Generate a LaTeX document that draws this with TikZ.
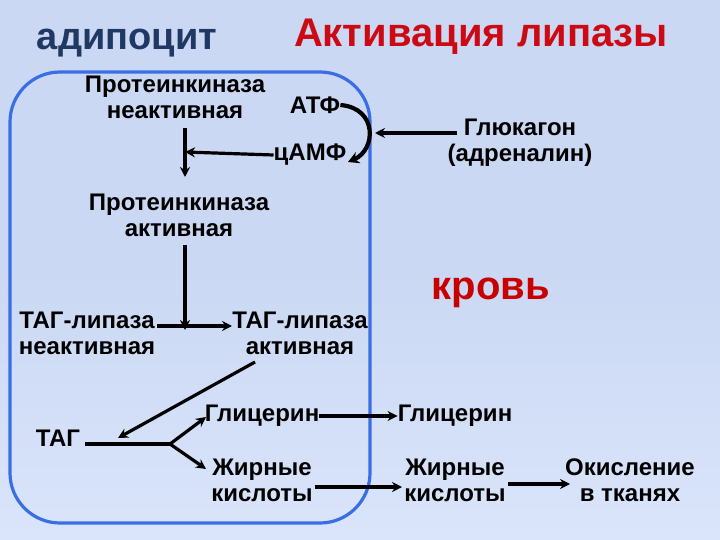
\documentclass[tikz,border=0pt]{standalone}
\usepackage{fontspec}
\setmainfont{Liberation Sans}
\usetikzlibrary{arrows.meta}
\definecolor{bgc}{RGB}{203,216,243}
\definecolor{bgl}{RGB}{218,229,251}
\definecolor{boxc}{RGB}{58,110,228}
\definecolor{navy}{RGB}{31,56,100}
\definecolor{redc}{RGB}{200,0,0}
\definecolor{titc}{RGB}{205,10,20}
\tikzset{
  txt/.style={font=\bfseries\fontsize{24}{26}\selectfont, align=center, inner sep=0pt, text=black},
  arr/.style={line width=3.2pt, -{Stealth[length=10pt,width=10pt]}},
  ln/.style={line width=3.2pt},
}
\begin{document}
\begin{tikzpicture}[x=1pt,y=-1pt]
\useasboundingbox (0,0) rectangle (720,540);
\shade[shading angle=135, top color=bgc, bottom color=bgl, middle color=bgc] (0,0) rectangle (720,540);
% cell
\draw[boxc, line width=3.2pt, rounded corners=50pt] (10,72) rectangle (370,523);
% titles
\node[font=\bfseries\fontsize{38}{40}\selectfont, text=navy, inner sep=0pt] (adip) at (127,43) {адипоцит};
\node[font=\bfseries\fontsize{40}{42}\selectfont, text=titc, inner sep=0pt, draw=none] (tit) at (481,37) {Активация липазы};
\node[font=\bfseries\fontsize{40}{42}\selectfont, text=redc, inner sep=0pt] (krov) at (491,293) {кровь};
% nodes
\node[txt] (pkn) at (175,97) {Протеинкиназа\\неактивная};
\node[txt] (atf) at (315,105) {АТФ};
\node[txt] (camp) at (310,155) {цАМФ};
\node[txt] (gluc) at (520,143) {Глюкагон\\(адреналин)};
\node[txt] (pka) at (179,215) {Протеинкиназа\\активная};
\node[txt] (tln) at (87,333) {ТАГ-липаза\\неактивная};
\node[txt] (tla) at (300,333) {ТАГ-липаза\\активная};
\node[txt] (tag) at (58,438) {ТАГ};
\node[txt] (gl1) at (262,416) {Глицерин};
\node[txt] (gl2) at (455,416) {Глицерин};
\node[txt] (fa1) at (262,480) {Жирные\\кислоты};
\node[txt] (fa2) at (455,480) {Жирные\\кислоты};
\node[txt] (ox) at (630,480) {Окисление\\в тканях};
% coordinates
\coordinate (v1t) at (185,128);
\coordinate (v1b) at (185,177);
\coordinate (v1m) at (185,152);
\coordinate (v2t) at (185,245);
\coordinate (v2b) at (185,330);
\coordinate (hl) at (157,326);
\coordinate (hr) at (232,326);
\coordinate (dg) at (255,362);
\coordinate (dgt) at (118,438);
\coordinate (br) at (170,444);
\coordinate (tagr) at (85,444);
\coordinate (glin) at (206,417);
\coordinate (fain) at (206,469);
\coordinate (gs) at (457,133);
\coordinate (ge) at (375,133);
% connectors
\draw[arr] (v1t) -- (v1b);
\draw[arr] (camp.west) -- (v1m);
\draw[line width=4.2pt, -{Stealth[length=11pt,width=12pt]}] (atf.east) .. controls (378,108) and (376,150) .. (348,162);
\draw[arr] (gs) -- (ge);
\draw[arr] (v2t) -- (v2b);
\draw[arr] (hl) -- (hr);
\draw[arr] (dg) -- (dgt);
\draw[ln] (tagr) -- (br);
\draw[arr] (br) -- (glin);
\draw[arr] (br) -- (fain);
\draw[arr] (gl1.east) -- (gl2.west);
\draw[arr] (fa1.east) ++(2,7) -- (402,487);
\draw[arr] (fa2.east) ++(2,4) -- (570,484);
\end{tikzpicture}
\end{document}
